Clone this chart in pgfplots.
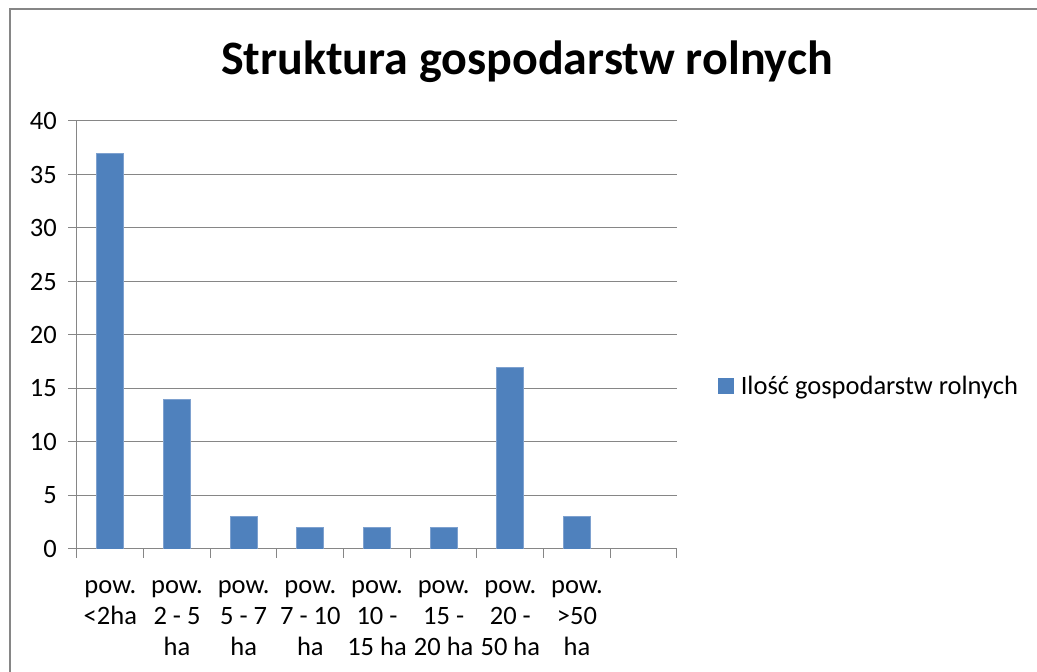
\documentclass[border=0pt]{standalone}
\usepackage{fontspec}
\setmainfont{Carlito}
\usepackage{pgfplots}
\pgfplotsset{compat=1.18}
\definecolor{barblue}{HTML}{4F81BD}
\definecolor{baredge}{HTML}{7EA1CF}
\definecolor{axisgray}{HTML}{868686}
\begin{document}
\begin{tikzpicture}[x=1pt,y=1pt]
\path[use as bounding box] (0,0) rectangle (1037,672);
\draw[axisgray, line width=2pt] (9.5,-5) -- (9.5,662.5) -- (1045,662.5);
\node[font=\fontsize{48}{56}\selectfont\bfseries, anchor=base] at (527,597) {Struktura gospodarstw rolnych};
\begin{axis}[
  at={(77pt,123pt)}, anchor=south west,
  scale only axis, width=600pt, height=428pt,
  xmin=-0.5, xmax=8.5, ymin=0, ymax=40,
  enlargelimits=false,
  axis lines*=left,
  axis line style={draw=axisgray, line width=1pt},
  ymajorgrids=true,
  grid style={draw=axisgray, line width=1pt},
  ytick={0,5,...,40},
  minor ytick={0,5,...,40},
  xtick={0,1,2,3,4,5,6,7},
  xticklabels={{pow.\\<2ha},{pow.\\2 - 5\\ha},{pow.\\5 - 7\\ha},{pow.\\7 - 10\\ha},{pow.\\10 -\\15 ha},{pow.\\15 -\\20 ha},{pow.\\20 -\\50 ha},{pow.\\>50\\ha}},
  minor xtick={-0.5,0.5,...,8.5},
  tick align=outside,
  major tick length=0pt,
  minor tick length=8.5pt,
  tick style={draw=axisgray, line width=1pt},
  /pgf/number format/assume math mode=true,
  yticklabel style={font=\fontsize{26.5}{31}\selectfont, anchor=east, inner sep=0pt, xshift=-20pt},
  xticklabel style={font=\fontsize{26.5}{31}\selectfont, align=center, anchor=north, inner sep=0pt, yshift=-31pt},
  legend style={at={(rel axis cs:1.068,0.381)}, anchor=west, draw=none, fill=none, inner sep=0pt,
    font=\fontsize{26.5}{31}\selectfont, nodes={inner sep=0pt}, column sep=7pt},
  legend image code/.code={\fill[barblue] (0pt,-7.5pt) rectangle (15pt,7.5pt);},
]
\addplot[ybar, bar width=27pt, fill=barblue, draw=baredge, line width=0.8pt] coordinates {
  (0,37) (1,14) (2,3) (3,2) (4,2) (5,2) (6,17) (7,3)
};
\addlegendentry{Ilość gospodarstw rolnych}
\end{axis}
\end{tikzpicture}
\end{document}
